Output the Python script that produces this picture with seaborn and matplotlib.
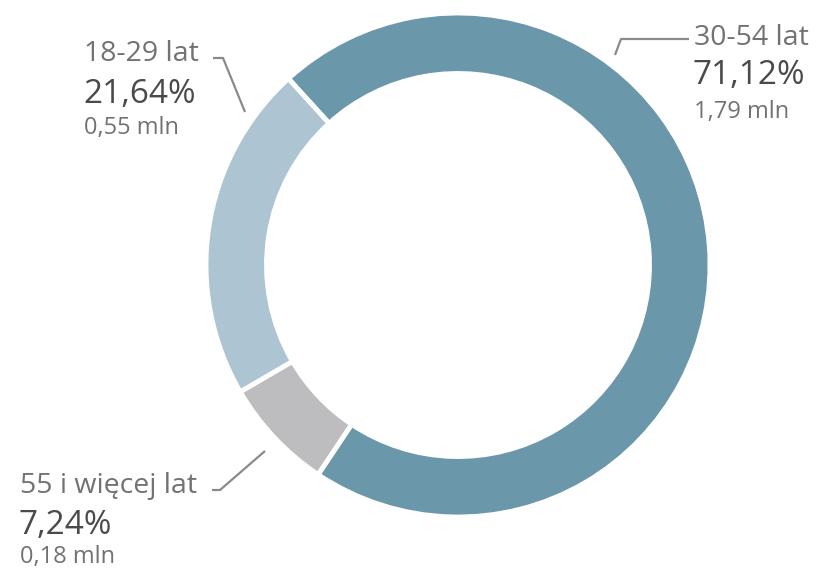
import matplotlib
matplotlib.use("Agg")
import matplotlib.pyplot as plt
import seaborn as sns

# Data
groups = ["30-54 lat", "55 i więcej lat", "18-29 lat"]
shares = [71.12, 7.24, 21.64]
millions = ["1,79 mln", "0,18 mln", "0,55 mln"]
pct_labels = ["71,12%", "7,24%", "21,64%"]
colors = ["#6b97ab", "#bdbdbf", "#adc5d2"]

sns.set_theme(style="white")
plt.rcParams['font.family'] = ['Open Sans', 'DejaVu Sans']

W, H = 820, 572
fig = plt.figure(figsize=(W / 100, H / 100), dpi=100)
ax = fig.add_axes([0, 0, 1, 1])

cx, cy, R = 458, H - 265, 252
ax.pie(shares, colors=colors, startangle=132.3, counterclock=False,
       center=(cx, cy), radius=R,
       wedgeprops=dict(width=R * 0.24, edgecolor="white", linewidth=3.5))
ax.set_xlim(0, W)
ax.set_ylim(0, H)
ax.set_aspect("equal")
ax.axis("off")

lab_c = "#727272"
pct_c = "#4a4a4a"
line_c = "#8a8a8a"

def Y(y):
    return H - y

# label blocks: (x, y_label, y_pct, y_mln)
blocks = [(694, 38, 76, 112), (20, 486, 525, 557), (84, 54, 95, 128)]
for (x, yl, yp, ym), g, p, m in zip(blocks, groups, pct_labels, millions):
    ax.text(x, Y(yl), g, fontsize=20.5, color=lab_c, ha="left", va="center")
    ax.text(x - 1, Y(yp), p, fontsize=24, color=pct_c, ha="left", va="center")
    ax.text(x, Y(ym), m, fontsize=17, color=lab_c, ha="left", va="center")

# leader lines
ax.plot([615, 621, 689], [Y(55), Y(39), Y(39)], color=line_c, lw=1.6, solid_capstyle="butt")
ax.plot([213, 223, 245], [Y(58), Y(58), Y(112)], color=line_c, lw=1.6, solid_capstyle="butt")
ax.plot([212, 220, 265], [Y(490), Y(490), Y(451)], color=line_c, lw=1.6, solid_capstyle="butt")

fig.savefig("out.png", dpi=100, facecolor="white")
